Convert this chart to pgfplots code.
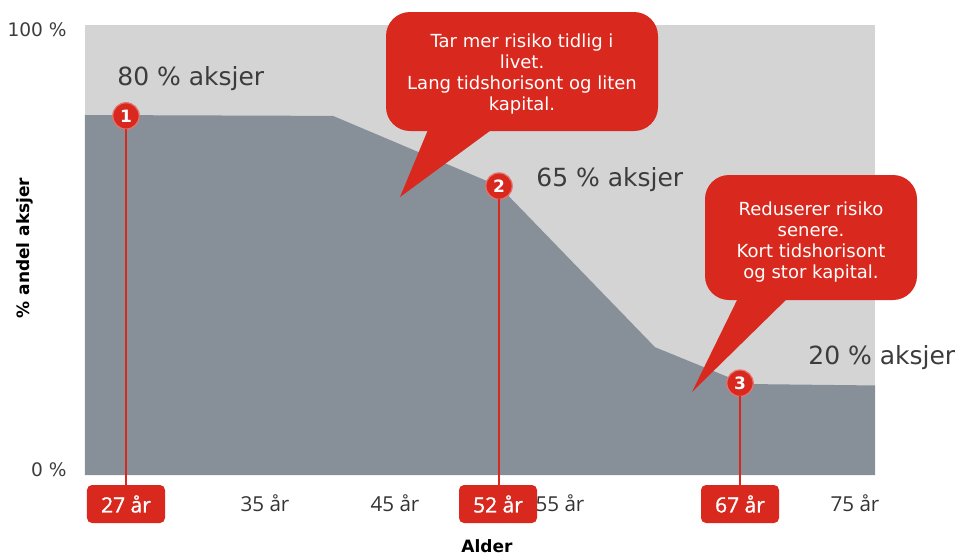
\documentclass[border=0pt]{standalone}
\usepackage{pgfplots}
\pgfplotsset{compat=1.18}
\usepackage{fontspec}
\setmainfont{DejaVu Sans}
\newfontfamily\tickfont{Open Sans}
\newfontfamily\tickfontb[FakeBold=1.2]{Open Sans}
\definecolor{cred}{RGB}{217,41,30}
\definecolor{clight}{RGB}{212,212,212}
\definecolor{cdark}{RGB}{135,143,153}
\definecolor{ctext}{RGB}{60,60,60}

\begin{document}
\begin{tikzpicture}
\begin{axis}[
  name=ax,
  scale only axis,
  width=395pt, height=225pt,
  xmin=85, xmax=875, ymin=0, ymax=100,
  clip=false,
  axis line style={draw=none},
  major tick length=0pt,
  axis background/.style={fill=clight},
  xtick={265,395,560,855},
  xticklabels={35 år,45 år,55 år,75 år},
  xticklabel style={font=\tickfont\fontsize{10.3}{11}\selectfont, text=black!80, anchor=center, yshift=-14pt},
  extra x ticks={126,498,740},
  extra x tick labels={27 år,52 år,67 år},
  extra x tick style={xticklabel style={fill=cred, text=white, rounded corners=2.5pt,
      minimum width=39pt, minimum height=19pt, inner sep=0pt, yshift=-0.5pt,
      font=\tickfontb\fontsize{10.5}{11}\selectfont}},
  ytick={1.1,98.9},
  yticklabels={0 \%,100 \%},
  yticklabel style={font=\fontsize{9.3}{10}\selectfont, text=ctext, anchor=east, inner sep=0pt, xshift=-9pt},
]
\addplot[fill=cdark, draw=none] coordinates {
  (85,80.0) (333,79.8) (499,64.2) (655,28.4) (730,21.6) (755,20.2) (875,19.9)
} \closedcycle;
\addplot[only marks, mark=*, mark size=6.6pt,
  mark options={fill=cred, draw=cred!65!white, line width=0.6pt},
  nodes near coords, point meta=explicit symbolic,
  nodes near coords style={anchor=center, text=white, font=\bfseries\fontsize{8.5}{9}\selectfont}]
  coordinates {(126,79.8)[1] (499,64.2)[2] (740,20.4)[3]};
\end{axis}
\begin{scope}[shift={(ax.south west)}, xshift=-42.5pt, yshift=237.5pt, x=0.5pt, y=-0.5pt]
  \path (0,0) rectangle (961,554);
  % lines from markers down to the age boxes
  \draw[cred, line width=0.8pt] (126,129) -- (126,486);
  \draw[cred, line width=0.8pt] (499,199) -- (499,486);
  \draw[cred, line width=0.8pt] (740,396) -- (740,486);
  % share labels
  \node[anchor=base west, inner sep=0pt, text=ctext, font=\fontsize{12.5}{13}\selectfont] at (117,85) {80 \% aksjer};
  \node[anchor=base west, inner sep=0pt, text=ctext, font=\fontsize{12.5}{13}\selectfont] at (536,186) {65 \% aksjer};
  \node[anchor=base west, inner sep=0pt, text=ctext, font=\fontsize{12.5}{13}\selectfont] at (808,364) {20 \% aksjer};
  % callout 1
  \fill[cred, rounded corners=12pt] (386,12) rectangle (658,131);
  \fill[cred] (430,125) -- (400,197) -- (498,125) -- cycle;
  \node[align=center, text=white, font=\fontsize{9}{10.5}\selectfont] at (522,74)
    {Tar mer risiko tidlig i\\livet.\\Lang tidshorisont og liten\\kapital.};
  % callout 2
  \fill[cred, rounded corners=12pt] (705,175) rectangle (917,300);
  \fill[cred] (740,294) -- (692,392) -- (792,294) -- cycle;
  \node[align=center, text=white, font=\fontsize{9}{10.5}\selectfont] at (811,242)
    {Reduserer risiko\\senere.\\Kort tidshorisont\\og stor kapital.};
  % axis titles
  \node[rotate=90, font=\bfseries\fontsize{8.5}{9}\selectfont] at (25,248) {\% andel aksjer};
  \node[font=\bfseries\fontsize{8.5}{9}\selectfont] at (487,546) {Alder};
\end{scope}
\end{tikzpicture}
\end{document}
